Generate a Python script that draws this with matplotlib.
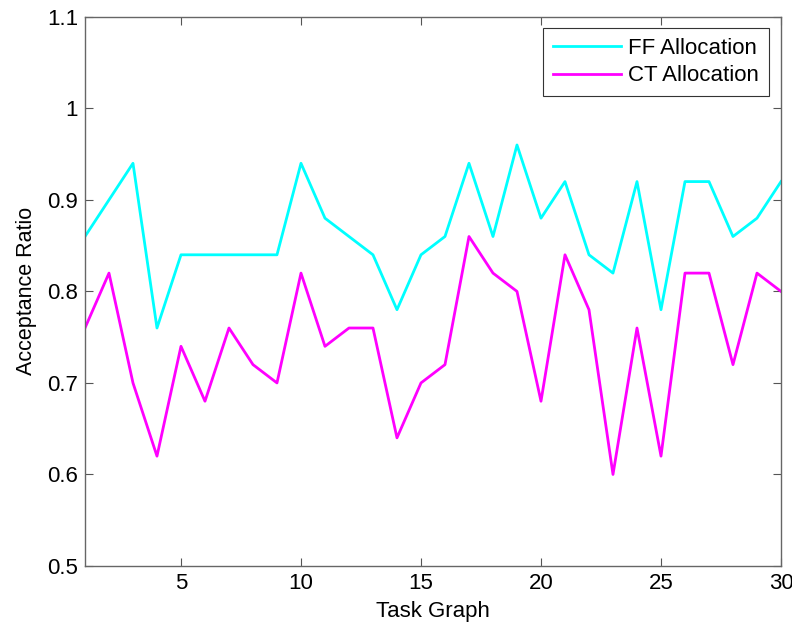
import matplotlib
matplotlib.use("Agg")
import matplotlib.pyplot as plt

plt.rcParams['font.family'] = ['Liberation Sans', 'DejaVu Sans']

task = list(range(1, 31))
ff_alloc = [0.86, 0.90, 0.94, 0.76, 0.84, 0.84, 0.84, 0.84, 0.84, 0.94,
            0.88, 0.86, 0.84, 0.78, 0.84, 0.86, 0.94, 0.86, 0.96, 0.88,
            0.92, 0.84, 0.82, 0.92, 0.78, 0.92, 0.92, 0.86, 0.88, 0.92]
ct_alloc = [0.76, 0.82, 0.70, 0.62, 0.74, 0.68, 0.76, 0.72, 0.70, 0.82,
            0.74, 0.76, 0.76, 0.64, 0.70, 0.72, 0.86, 0.82, 0.80, 0.68,
            0.84, 0.78, 0.60, 0.76, 0.62, 0.82, 0.82, 0.72, 0.82, 0.80]
yticks = [0.5, 0.6, 0.7, 0.8, 0.9, 1.0, 1.1]
ytick_labels = ['0.5', '0.6', '0.7', '0.8', '0.9', '1', '1.1']
xticks = [5, 10, 15, 20, 25, 30]

fig = plt.figure(figsize=(7.92, 6.24), dpi=100)
ax = fig.add_axes([0.1073, 0.093, 0.8788, 0.880])

ax.plot(task, ff_alloc, color='#00ffff', lw=2, label='FF Allocation')
ax.plot(task, ct_alloc, color='#ff00ff', lw=2, label='CT Allocation')

ax.set_xlim(1, 30)
ax.set_ylim(0.5, 1.1)
ax.set_xticks(xticks)
ax.set_yticks(yticks)
ax.set_yticklabels(ytick_labels)
ax.tick_params(direction='in', top=True, right=True, labelsize=16,
               length=6, color='#555555')
ax.tick_params(axis='x', pad=5)
ax.tick_params(axis='y', pad=5)
for s in ax.spines.values():
    s.set_color('#666666')
    s.set_linewidth(1)

ax.set_xlabel('Task Graph', fontsize=16, labelpad=5)
ax.set_ylabel('Acceptance Ratio', fontsize=15.5, labelpad=7)

leg = ax.legend(loc='upper right', bbox_to_anchor=(0.9828, 0.980),
                borderaxespad=0, fontsize=16, fancybox=False,
                framealpha=1, edgecolor='#333333', handlelength=3.1,
                handletextpad=0.3, borderpad=0.45, labelspacing=0.3)
leg.get_frame().set_linewidth(0.8)

fig.savefig('out.png', dpi=100)
plt.close(fig)
